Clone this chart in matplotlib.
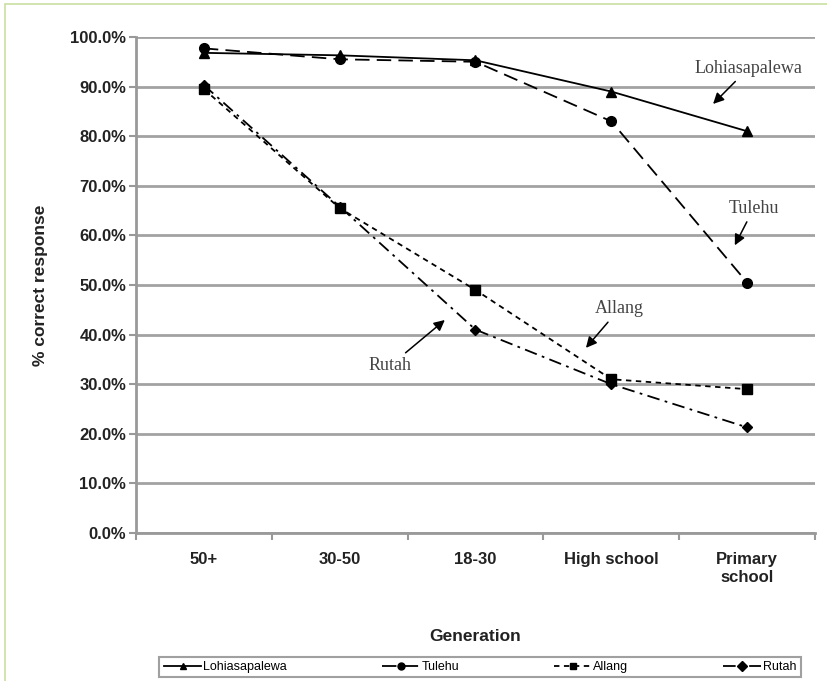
import matplotlib.pyplot as plt
from matplotlib.patches import Rectangle
from matplotlib.ticker import FuncFormatter

# Data
generations = ['50+', '30-50', '18-30', 'High school', 'Primary\nschool']
lohiasapalewa = [96.8, 96.3, 95.3, 89.0, 81.0]
tulehu = [97.7, 95.5, 95.0, 83.0, 50.5]
allang = [89.5, 65.5, 49.0, 31.0, 29.0]
rutah = [90.3, 65.8, 41.0, 30.0, 21.3]

sans = 'Liberation Sans'
serif = 'Liberation Serif'

fig = plt.figure(figsize=(8.27, 6.81), dpi=100)
ax = fig.add_axes([0.1644, 0.2173, 0.8211, 0.7284])

# light green frame from the page
fig.patches.append(Rectangle((0.006, -0.1), 1.2, 1.094, transform=fig.transFigure,
                             fill=False, edgecolor='#c9df9f', linewidth=1.2))

x = list(range(len(generations)))
ax.plot(x, lohiasapalewa, color='black', lw=1.3, ls='-', marker='^', ms=7,
        label='Lohiasapalewa', zorder=4)
ax.plot(x, tulehu, color='black', lw=1.3, ls=(0, (8, 4)), marker='o', ms=7,
        label='Tulehu', zorder=4)
ax.plot(x, allang, color='black', lw=1.3, ls=(0, (3, 2.5)), marker='s', ms=6.5,
        label='Allang', zorder=4)
ax.plot(x, rutah, color='black', lw=1.3, ls=(0, (7, 3, 1.5, 3)), marker='D', ms=5.5,
        label='Rutah', zorder=4)

ax.set_xlim(-0.5, 4.5)
ax.set_ylim(0, 100)
ax.set_yticks(range(0, 101, 10))
ax.yaxis.set_major_formatter(FuncFormatter(lambda v, p: f'{v:.1f}%'))
ax.yaxis.grid(True, color='#a2a2a2', lw=2.0)
ax.set_axisbelow(True)

ax.set_xticks([i - 0.5 for i in range(6)], minor=False)
ax.set_xticklabels([])
ax.set_xticks(x, minor=True)
ax.set_xticklabels(generations, minor=True, fontfamily=sans, fontweight='bold',
                   fontsize=12, color='#222222')
ax.tick_params(axis='x', which='minor', length=0, pad=14)
ax.tick_params(axis='x', which='major', length=5, color='#999999', width=1.5)
ax.tick_params(axis='y', length=5, color='#999999', width=1.5, pad=2)
for lab in ax.get_yticklabels():
    lab.set_fontfamily(sans)
    lab.set_fontweight('bold')
    lab.set_fontsize(12)
    lab.set_color('#222222')

for side in ['top', 'right']:
    ax.spines[side].set_visible(False)
for side in ['left', 'bottom']:
    ax.spines[side].set_color('#999999')
    ax.spines[side].set_linewidth(2)

ax.set_xlabel('Generation', fontfamily=sans, fontweight='bold', fontsize=12.5,
              color='#222222', labelpad=32)
ax.set_ylabel('% correct response', fontfamily=sans, fontweight='bold', fontsize=12.5,
              color='#222222', labelpad=16)

# series labels with arrows
arrow = dict(arrowstyle='-|>', color='black', lw=1.1, mutation_scale=16, shrinkA=2)
txt = dict(fontfamily=serif, fontsize=13, color='#444444')
ax.annotate('Lohiasapalewa', xy=(3.735, 86.1), xytext=(4.01, 93.7), ha='center', va='center',
            arrowprops=arrow, **txt)
ax.annotate('Tulehu', xy=(3.9, 57.5), xytext=(4.05, 65.5), ha='center', va='center',
            arrowprops=arrow, **txt)
ax.annotate('Allang', xy=(2.8, 36.9), xytext=(3.06, 45.2), ha='center', va='center',
            arrowprops=arrow, **txt)
ax.annotate('Rutah', xy=(1.79, 43.3), xytext=(1.37, 33.7), ha='center', va='center',
            arrowprops=arrow, **txt)

leg = fig.legend(loc='center', bbox_to_anchor=(0.5805, 0.0205), ncol=4,
                 frameon=True, fancybox=False, edgecolor='#888888',
                 handlelength=3.0, handletextpad=0.15, columnspacing=7.6, borderpad=0.35,
                 prop={'family': sans, 'size': 9})
leg.get_frame().set_linewidth(1.5)
for line in leg.get_lines():
    line.set_markersize(5)

fig.savefig('out.png', dpi=100)
